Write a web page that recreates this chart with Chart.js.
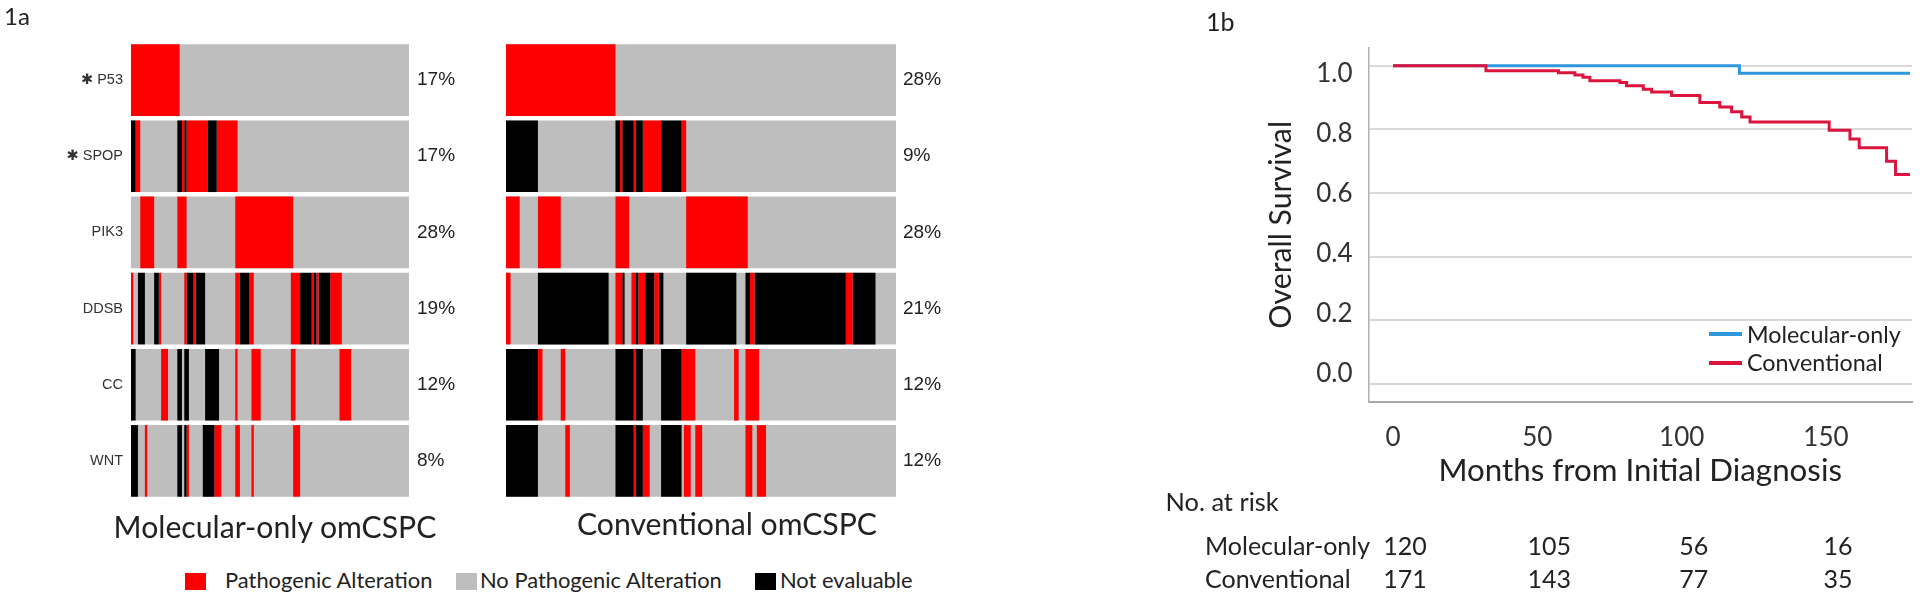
<!DOCTYPE html>
<html>
<head>
<meta charset="utf-8">
<title>omCSPC alterations and overall survival</title>
<script src="https://cdn.jsdelivr.net/npm/chart.js@4.4.1/dist/chart.umd.min.js"></script>
<style>
  body { margin: 0; background: #fff; }
  #page { position: relative; width: 1920px; height: 597px; overflow: hidden;
          font-family: Lato, 'Open Sans', sans-serif; color: #222; }
  canvas, .txt, .sw { position: absolute; }
  .txt { white-space: nowrap; line-height: 1; }
</style>
</head>
<body>
<div id="page">
  <canvas id="heatMol" width="460" height="520" style="left:0;top:0"></canvas>
  <canvas id="heatConv" width="500" height="520" style="left:460px;top:0"></canvas>
  <canvas id="km" width="770" height="597" style="left:1150px;top:0"></canvas>
</div>
<script>
// ---- 1a: alteration status per patient, as runs (R = pathogenic, G = none, K = not evaluable)
const genes = ['✱ P53', '✱ SPOP', 'PIK3', 'DDSB', 'CC', 'WNT'];
const molPct = ['17%', '17%', '28%', '19%', '12%', '8%'];
const convPct = ['28%', '9%', '28%', '21%', '12%', '12%'];
const molCount = 120;
const convCount = 171;
const molRuns = [
  'R21',
  'K2 R2 G16 K2 R1 K1 R9 K4 R9',
  'G4 R6 G10 R4 G21 R25',
  'R1 G2 K3 G4 K2 R1 G10 R1 K3 R1 K4 G13 R2 K4 R2 G16 R4 K5 R1 K1 R1 K5 R5',
  'K2 G11 R3 G4 K2 G1 K2 G7 K6 G7 R1 G6 R4 G13 R2 G19 R5',
  'K3 G3 R1 G13 K2 G1 K1 R1 G6 K5 R3 G6 R2 G5 R1 G17 R3'
];
const convRuns = [
  'R48',
  'K14 G34 K2 R1 K5 R1 K3 R8 K9 R2',
  'R6 G8 R10 G24 R6 G25 R27',
  'R2 G12 K31 G3 R3 K1 G3 R2 K1 R3 K4 R2 K2 G10 K22 G4 K2 R2 K40 R3 K10',
  'K14 R2 G8 R2 G22 K8 R1 K3 G8 K9 R6 G17 R2 G3 R6',
  'K14 G12 R2 G20 K8 R1 K3 R3 G5 K9 G1 R3 G2 R3 G19 R3 G2 R4'
];
const statusCodes = ['R', 'G', 'K'];
const statusLabels = ['Pathogenic Alteration', 'No Pathogenic Alteration', 'Not evaluable'];
const statusColors = { R: '#ff0000', G: '#bebebe', K: '#000000' };

// ---- 1b: Kaplan-Meier steps (months, survival)
const molTime = [0, 120.0, 179.1];
const molSurv = [1, 0.976, 0.976];
const convTime = [0, 32.2, 57.3, 63.0, 65.8, 68.2, 78.6, 80.9, 86.7, 89.6, 96.5, 106.3,
                  113.2, 117.3, 120.8, 123.7, 151.1, 158.3, 161.5, 171.0, 174.1, 179.1];
const convSurv = [1, 0.984, 0.978, 0.971, 0.964, 0.953, 0.947, 0.937, 0.926, 0.917, 0.906, 0.884,
                  0.870, 0.855, 0.839, 0.823, 0.797, 0.770, 0.742, 0.700, 0.658, 0.658];
const riskTimes = [0, 50, 100, 150];
const riskMol = [120, 105, 56, 16];
const riskConv = [171, 143, 77, 35];

const page = document.getElementById('page');
const meas = document.createElement('canvas').getContext('2d');
const armFont = "'Liberation Sans', 'DejaVu Sans', Arial, sans-serif";

// font size that gives a text a wanted width
function fitSize(text, width) {
  meas.font = '100px Lato';
  return +(100 * width / meas.measureText(text).width).toFixed(1);
}

function addText(text, x, base, size, align, color) {
  const d = document.createElement('div');
  d.className = 'txt';
  d.textContent = text;
  d.style.fontSize = size + 'px';
  d.style.top = (base - 0.89 * size) + 'px';
  d.style.left = x + 'px';
  if (align === 'center') d.style.transform = 'translateX(-50%)';
  if (color) d.style.color = color;
  page.appendChild(d);
  return d;
}

function addSwatch(x, y, w, h, color) {
  const d = document.createElement('div');
  d.className = 'sw';
  Object.assign(d.style, { left: x + 'px', top: y + 'px', width: w + 'px', height: h + 'px', background: color });
  page.appendChild(d);
}

function parseRuns(str) {
  let pos = 0;
  return str.split(' ').map(tok => {
    const seg = { code: tok[0], start: pos, end: pos + Number(tok.slice(1)) };
    pos = seg.end;
    return seg;
  }).filter(s => s.code !== 'G');
}

function heatDatasets(runs, count) {
  const rows = runs.map(parseRuns);
  const slots = Math.max(...rows.map(r => r.length));
  const sets = [];
  for (let k = 0; k < slots; k++) {
    sets.push({
      data: rows.map(r => r[k] ? [r[k].start, r[k].end] : null),
      backgroundColor: rows.map(r => r[k] ? statusColors[r[k].code] : 'rgba(0,0,0,0)')
    });
  }
  // grey row last, so it is painted underneath
  sets.push({ data: rows.map(() => [0, count]), backgroundColor: statusColors.G });
  return sets;
}

function heatChart(id, runs, count, pct, showGenes, leftW, rightW, pctPad) {
  return new Chart(document.getElementById(id), {
    type: 'bar',
    data: { labels: genes, datasets: heatDatasets(runs, count) },
    options: {
      indexAxis: 'y',
      responsive: false,
      animation: false,
      layout: { padding: { top: 42, bottom: 21 } },
      datasets: { bar: { grouped: false, barPercentage: 0.94, categoryPercentage: 1, borderWidth: 0 } },
      plugins: { legend: { display: false }, tooltip: { enabled: false } },
      scales: {
        x: { type: 'linear', min: 0, max: count, display: false },
        y: {
          grid: { display: false, drawTicks: false }, border: { display: false },
          ticks: { display: showGenes, padding: 8, color: '#333', font: { family: armFont, size: 14.5 } },
          afterFit: s => { s.width = leftW; }
        },
        pct: {
          type: 'category', position: 'right', labels: pct, offset: true,
          grid: { display: false, drawTicks: false }, border: { display: false },
          ticks: { padding: pctPad, color: '#222', font: { family: armFont, size: 19 } },
          afterFit: s => { s.width = rightW; }
        }
      }
    }
  });
}

function draw() {
  heatChart('heatMol', molRuns, molCount, molPct, true, 131, 51, 8);
  heatChart('heatConv', convRuns, convCount, convPct, false, 46, 64, 7);

  addText('1a', 4, 25, 24);
  addText('Molecular-only omCSPC', 275, 538, fitSize('Molecular-only omCSPC', 324), 'center');
  addText('Conventional omCSPC', 727, 535, fitSize('Conventional omCSPC', 300), 'center');

  const legSize = fitSize(statusLabels[0], 208);
  const legX = [185, 456, 755];
  statusCodes.forEach((c, i) => {
    addSwatch(legX[i], 573, 21, 17, statusColors[c]);
    addText(statusLabels[i], legX[i] + 40 - (i === 1 ? 16 : i === 2 ? 15 : 0), 588, legSize);
  });

  const tickFont = { family: 'Lato', size: 26 };
  const xTitleSize = fitSize('Months from Initial Diagnosis', 403);
  const yTitleSize = fitSize('Overall Survival', 208);

  const km = new Chart(document.getElementById('km'), {
    type: 'line',
    data: {
      datasets: [
        { label: 'Molecular-only', data: molTime.map((t, i) => ({ x: t, y: molSurv[i] })),
          borderColor: '#2f98dc', order: 1 },
        { label: 'Conventional', data: convTime.map((t, i) => ({ x: t, y: convSurv[i] })),
          borderColor: '#dc143c', order: 0 }
      ]
    },
    options: {
      responsive: false,
      animation: false,
      layout: { padding: { top: 48, right: 8 } },
      elements: {
        line: { borderWidth: 3, stepped: 'before', tension: 0, fill: false, borderJoinStyle: 'miter' },
        point: { radius: 0 }
      },
      plugins: { legend: { display: false }, tooltip: { enabled: false } },
      scales: {
        x: {
          type: 'linear', min: -8.5, max: 179.8,
          grid: { display: false },
          border: { color: '#a6a6a6', width: 2 },
          ticks: { stepSize: 50, includeBounds: false, padding: 12, color: '#333', font: tickFont },
          title: { display: true, text: 'Months from Initial Diagnosis', color: '#222',
                   font: { family: 'Lato', size: xTitleSize },
                   padding: { top: 0, bottom: 126 - 0.6 * xTitleSize } },
          afterFit: s => { s.height = 597 - 401.7; }
        },
        y: {
          type: 'linear', weight: 0, min: -0.0556, max: 1.0556,
          ticks: { display: false, stepSize: 0.2, includeBounds: false },
          grid: { color: '#d9d9d9', lineWidth: 2, drawTicks: false },
          border: { color: '#b0b0b0', width: 1.5 },
          afterFit: s => { s.width = 0; }
        },
        yl: {
          type: 'linear', position: 'left', weight: 1, min: -0.0923, max: 1.0867,
          grid: { display: false, drawTicks: false }, border: { display: false },
          ticks: { stepSize: 0.2, includeBounds: false, padding: 16, color: '#333', font: tickFont,
                   callback: v => v.toFixed(1) },
          title: { display: true, text: 'Overall Survival', color: '#222',
                   font: { family: 'Lato', size: yTitleSize },
                   padding: { top: 131 - 0.6 * yTitleSize, bottom: 0 } },
          afterFit: s => { s.width = 218.5; }
        }
      }
    }
  });

  addText('1b', 1206, 31, 25);

  // legend inside the plot, from the chart's own datasets
  const kmLegSize = fitSize('Molecular-only', 154);
  km.data.datasets.forEach((ds, i) => {
    const cy = 334 + i * 28.7;
    addSwatch(1709, cy - 2, 33, 4, ds.borderColor);
    addText(ds.label, 1747, cy + 9.3, kmLegSize);
  });

  // number at risk, aligned on the x scale
  const riskSize = fitSize('Molecular-only', 165);
  addText('No. at risk', 1165.5, 512, fitSize('No. at risk', 113));
  const xs = km.scales.x;
  [[km.data.datasets[0].label, riskMol, 555], [km.data.datasets[1].label, riskConv, 588]].forEach(([lab, vals, base]) => {
    addText(lab, 1205, base, riskSize);
    riskTimes.forEach((t, i) => {
      addText(String(vals[i]), 1150 + xs.getPixelForValue(t) + 12, base, riskSize, 'center');
    });
  });
}

if (document.fonts && document.fonts.load) {
  document.fonts.load('26px Lato').then(draw, draw);
} else {
  draw();
}
</script>
</body>
</html>
